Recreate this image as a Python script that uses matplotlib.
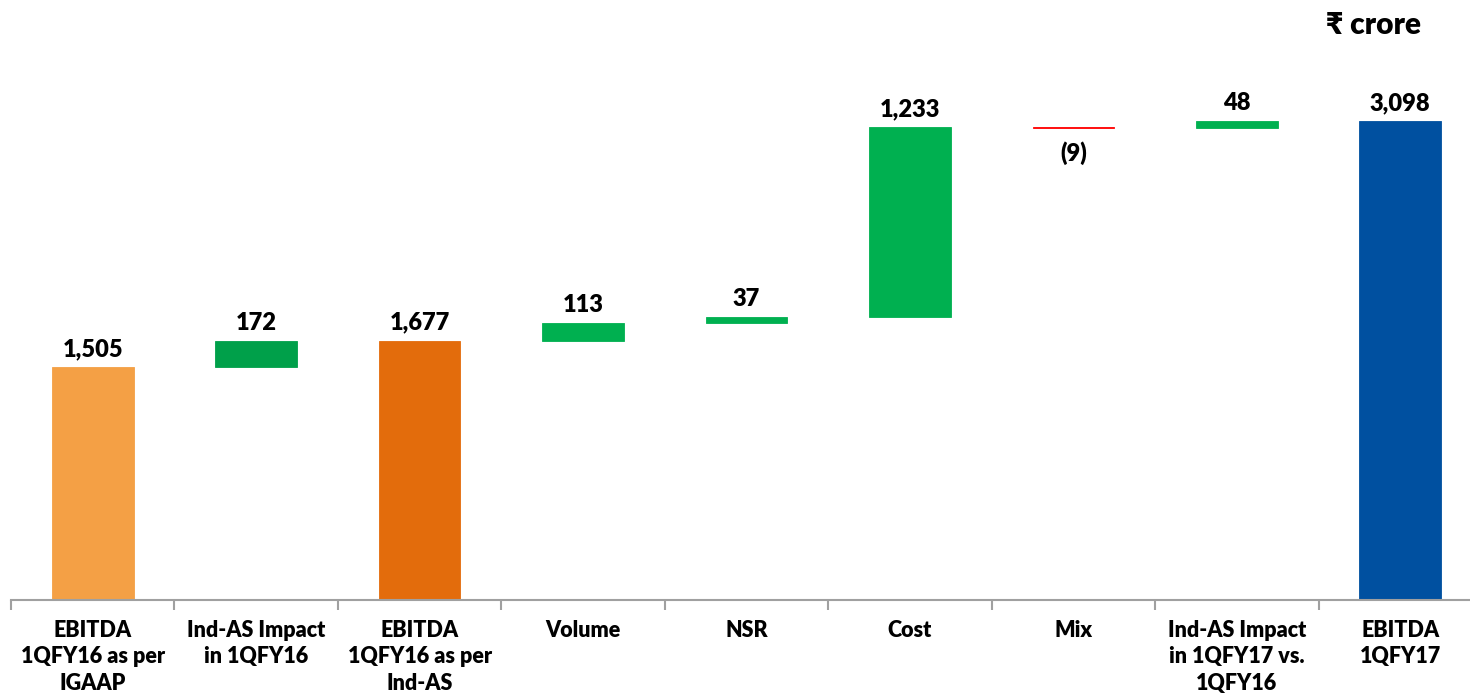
#!/usr/bin/env python3
# -*- coding: utf-8 -*-
"""
EBITDA bridge 1QFY16 -> 1QFY17 (waterfall)
"""

import matplotlib
matplotlib.use('Agg')
import matplotlib.pyplot as plt
import numpy as np

plt.rcParams['font.family'] = ['Lato', 'DejaVu Sans']
plt.rcParams['font.weight'] = 'heavy'

# data
categories = ['EBITDA\n1QFY16 as per\nIGAAP', 'Ind-AS Impact\nin 1QFY16', 'EBITDA\n1QFY16 as per\nInd-AS',
              'Volume', 'NSR', 'Cost', 'Mix', 'Ind-AS Impact\nin 1QFY17 vs.\n1QFY16', 'EBITDA\n1QFY17']
values = [1505, 172, 1677, 113, 37, 1233, -9, 48, 3098]
is_total = [True, False, True, False, False, False, False, False, True]
value_labels = ['1,505', '172', '1,677', '113', '37', '1,233', '(9)', '48', '3,098']
colors = ['#F4A045', '#00A04A', '#E36C0C', '#00B050', '#00B050', '#00B050', '#FF0000', '#00B050', '#0050A0']

# waterfall bottoms
bottoms = []
running = 0
for v, tot in zip(values, is_total):
    if tot:
        bottoms.append(0)
        running = v
    else:
        bottoms.append(running if v >= 0 else running + v)
        running += v
heights = [abs(v) for v in values]

fig = plt.figure(figsize=(14.7, 6.95), dpi=100)
ax = fig.add_axes([11 / 1470, 95.5 / 695, 1471 / 1470, 599.5 / 695])

x = np.arange(len(categories))
ax.bar(x, heights, bottom=bottoms, width=0.5, color=colors, edgecolor=colors, linewidth=0.6)

for i, (v, b, h, lab) in enumerate(zip(values, bottoms, heights, value_labels)):
    if v < 0:
        ax.annotate(lab, (i, b), xytext=(0, -9), textcoords='offset points',
                    ha='center', va='top', fontsize=17, fontweight='heavy')
    else:
        ax.annotate(lab, (i, b + h), xytext=(0, 5), textcoords='offset points',
                    ha='center', va='bottom', fontsize=17, fontweight='heavy')

ax.set_xlim(-0.5, len(categories) - 0.5)
ax.set_ylim(0, 3882)
ax.set_yticks([])
for s in ['top', 'right', 'left']:
    ax.spines[s].set_visible(False)
ax.spines['bottom'].set_color('#A0A0A0')
ax.spines['bottom'].set_linewidth(1.5)

ax.set_xticks(x - 0.5, minor=False)
ax.set_xticklabels([])
ax.tick_params(axis='x', length=7, width=1.5, color='#A0A0A0')
ax.set_xticks(x, minor=True)
ax.set_xticklabels(categories, minor=True, fontsize=15.5, fontweight='heavy', linespacing=1.3)
ax.tick_params(axis='x', which='minor', length=0, pad=15)

fig.text(1374 / 1470, 1 - 25 / 695, '₹ crore', ha='center', va='center', fontsize=21.5, fontweight='heavy')

plt.savefig('out.png', dpi=100)
plt.close()
